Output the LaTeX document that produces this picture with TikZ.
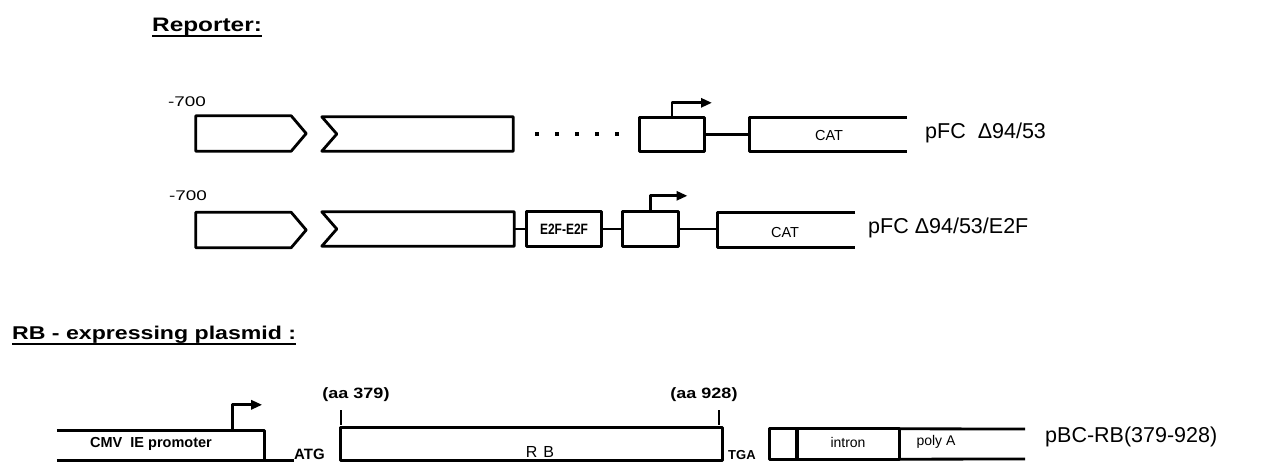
\documentclass[tikz,border=0pt]{standalone}
\usepackage{fontspec}
\setmainfont{Liberation Sans}
\newfontfamily\hfont{Liberation Sans}[FakeStretch=1.25]
\newfontfamily\wfont{Liberation Sans}[FakeStretch=1.2]
\newfontfamily\nfont{Liberation Sans}[FakeStretch=0.8]
\newfontfamily\xfont{Liberation Sans}[FakeStretch=1.35]
\usetikzlibrary{arrows.meta,calc}
\newcommand{\fsz}[1]{\fontsize{#1}{#1}\selectfont}
\begin{document}
\begin{tikzpicture}[x=1pt,y=-1pt,line join=round,
  ghost/.style={inner sep=0pt,rectangle},
  outl/.style={line width=2.8pt},
  conn/.style={line width=2.8pt},
  lbl/.style={inner sep=0pt},
  prom/.style={line width=2.8pt,-{Triangle[length=11pt,width=9pt]}},
  dotn/.style={fill,inner sep=0pt,minimum width=4.5pt,minimum height=3.5pt}]
\useasboundingbox (0,0) rectangle (1261,462);
% headings
\node[lbl,anchor=base west,font=\hfont\bfseries\fsz{19.5}] (rep) at (152,32) {Reporter:};
\draw[line width=2.8pt] ($(rep.base west)+(0,4)$) -- ($(rep.base east)+(0,4)$);
\node[lbl,anchor=base west,font=\hfont\bfseries\fsz{18.5}] (rbh) at (12,339) {RB - expressing plasmid :};
\draw[line width=2.8pt] ($(rbh.base west)+(0,5)$) -- ($(rbh.base east)+(0,5)$);
% row 1
\node[lbl,font=\xfont\fsz{14}] (m1) at (187,102) {-700};
\node[ghost,minimum width=110pt,minimum height=35pt] (a1) at (251,133.5) {};
\draw[outl] (a1.north west) -- ($(a1.north east)+(-15,0)$) -- (a1.east) -- ($(a1.south east)+(-15,0)$) -- (a1.south west) -- cycle;
\node[ghost,minimum width=191pt,minimum height=34pt] (b1) at (417.5,134) {};
\draw[outl] (b1.north west) -- ($(b1.west)+(15,0)$) -- (b1.south west) -- (b1.south east) -- (b1.north east) -- cycle;
\foreach \i in {0,...,4} \node[dotn] (d\i) at ({537+20*\i},134) {};
\node[ghost,minimum width=64pt,minimum height=33pt] (p1) at (672,134.5) {};
\draw[outl] (p1.north west) rectangle (p1.south east);
\draw[prom] (p1.north) -- ++(0,-15) -- ++(40,0);
\node[ghost,minimum width=157pt,minimum height=33pt] (c1) at (828.5,134.5) {};
\draw[outl] (c1.north east) -- (c1.north west) -- (c1.south west) -- (c1.south east);
\draw[conn] (p1.east) -- (p1.east -| c1.west);
\node[lbl,font=\fsz{14.5}] (cat1) at (829,136) {CAT};
\node[lbl,anchor=west,font=\fsz{21.5}] (n1) at (925,133) {pFC~ Δ94/53};
% row 2
\node[lbl,font=\xfont\fsz{14}] (m2) at (188,196) {-700};
\node[ghost,minimum width=110pt,minimum height=35pt] (a2) at (251,230) {};
\draw[outl] (a2.north west) -- ($(a2.north east)+(-15,0)$) -- (a2.east) -- ($(a2.south east)+(-15,0)$) -- (a2.south west) -- cycle;
\node[ghost,minimum width=192pt,minimum height=34pt] (b2) at (418,229) {};
\draw[outl] (b2.north west) -- ($(b2.west)+(15,0)$) -- (b2.south west) -- (b2.south east) -- (b2.north east) -- cycle;
\node[ghost,minimum width=74pt,minimum height=34pt,font=\nfont\bfseries\fsz{15}] (e2f) at (564,229) {E2F-E2F};
\draw[outl] (e2f.north west) rectangle (e2f.south east);
\node[ghost,minimum width=55pt,minimum height=34pt] (p2) at (650.5,229) {};
\draw[outl] (p2.north west) rectangle (p2.south east);
\draw[prom] (p2.north) -- ++(0,-16) -- ++(37,0);
\node[ghost,minimum width=137pt,minimum height=34pt] (c2) at (786.5,230) {};
\draw[outl] (c2.north east) -- (c2.north west) -- (c2.south west) -- (c2.south east);
\draw[conn] (b2.east) -- (e2f.west);
\draw[conn] (e2f.east) -- (p2.west);
\draw[conn] (p2.east) -- (p2.east -| c2.west);
\node[lbl,font=\fsz{14.5}] (cat2) at (785,233) {CAT};
\node[lbl,anchor=west,font=\fsz{21.5}] (n2) at (868,228) {pFC Δ94/53/E2F};
% bottom row
\node[ghost,minimum width=207pt,minimum height=29pt] (cmv) at (160.5,445.5) {};
\draw[outl] (cmv.north west) -- (cmv.north east) -- (cmv.south east);
\node[lbl,font=\bfseries\fsz{14.5}] (cmvt) at (151,444) {CMV~ IE promoter};
\draw[prom] ($(cmv.north east)+(-32,0)$) -- ++(0,-26) -- ++(30,0);
\node[lbl,anchor=base west,font=\bfseries\fsz{15}] (atg) at (294,459.5) {ATG};
\draw[outl] (cmv.south west) -- (cmv.south east) -- (cmv.south east -| atg.west);
\node[ghost,minimum width=381pt,minimum height=32pt] (rb) at (531.5,444) {};
\draw[outl] (rb.north west) rectangle (rb.south east);
\node[lbl,font=\fsz{16}] (rbt) at (540,452) {R\kern 6pt B};
\node[lbl,font=\wfont\bfseries\fsz{15}] (aa1) at (356,395) {(aa 379)};
\node[lbl,font=\wfont\bfseries\fsz{15}] (aa2) at (704,395) {(aa 928)};
\coordinate (t1a) at (341,410); \coordinate (t1b) at (341,425);
\coordinate (t2a) at (719,410); \coordinate (t2b) at (719,425);
\draw[conn] (t1a) -- (t1b);
\draw[conn] (t2a) -- (t2b);
\node[lbl,anchor=base west,font=\bfseries\fsz{13}] (tga) at (728,459) {TGA};
\node[ghost,minimum width=27pt,minimum height=30pt] (s0) at (783.5,444) {};
\draw[outl] (s0.north west) rectangle (s0.south east);
\node[ghost,minimum width=102pt,minimum height=30pt] (intr) at (848,444) {};
\draw[outl] (intr.north west) rectangle (intr.south east);
\coordinate (pe1) at (1025,429); \coordinate (pe2) at (1025,459);
\draw[outl] (intr.north east) -- (pe1);
\draw[outl] (intr.south east) -- (pe2);
\node[lbl,font=\fsz{14}] (intt) at (848,442) {intron};
\node[lbl,font=\fsz{14}] (polt) at (936,442) {poly A};
\node[lbl,anchor=west,font=\fsz{21.5}] (n3) at (1045,437) {pBC-RB(379-928)};
\end{tikzpicture}
\end{document}
